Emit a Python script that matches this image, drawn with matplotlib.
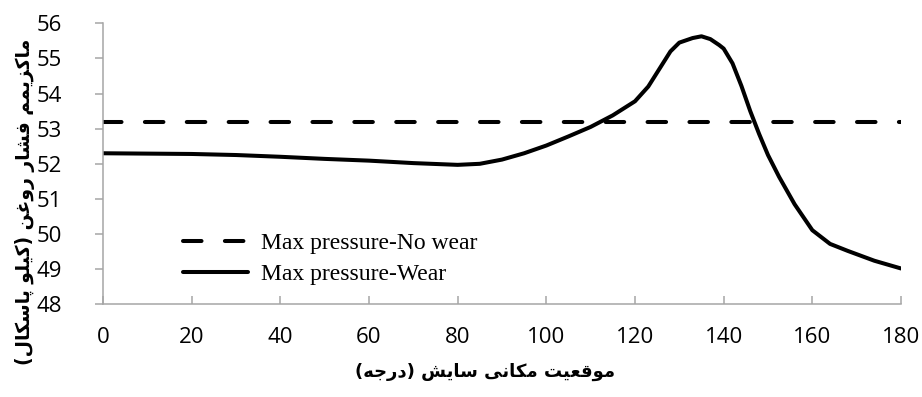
import matplotlib
matplotlib.use("Agg")
import matplotlib.pyplot as plt

# --- data ---
angle = [0, 10, 20, 30, 40, 50, 60, 70, 80, 85, 90, 95, 100, 105, 110, 115,
         120, 123, 126, 128, 130, 133, 135, 137, 139, 140, 142, 144, 146,
         148, 150, 152.5, 156, 160, 164, 168, 174, 180]
p_wear = [52.30, 52.29, 52.28, 52.25, 52.20, 52.14, 52.09, 52.02, 51.97,
          52.00, 52.12, 52.30, 52.52, 52.78, 53.05, 53.38, 53.78, 54.20,
          54.80, 55.20, 55.45, 55.58, 55.63, 55.55, 55.38, 55.28, 54.86,
          54.22, 53.50, 52.85, 52.25, 51.63, 50.85, 50.11, 49.72, 49.52,
          49.24, 49.02]
nowear_x = [0, 180]
nowear_y = [53.2, 53.2]

labels = ["Max pressure-No wear", "Max pressure-Wear"]
xticks = list(range(0, 181, 20))
yticks = list(range(48, 57))
xlabel = "موقعیت مکانی سایش (درجه)"
ylabel = "ماکزیمم فشار روغن (کیلو پاسکال)"

# --- minimal persian shaping (matplotlib has no bidi / joining) ---
FORMS = {  # isolated, final, initial, medial
    "ا": ("\uFE8D", "\uFE8E", None, None),
    "د": ("\uFEA9", "\uFEAA", None, None),
    "ر": ("\uFEAD", "\uFEAE", None, None),
    "ز": ("\uFEAF", "\uFEB0", None, None),
    "و": ("\uFEED", "\uFEEE", None, None),
    "پ": ("\uFB56", "\uFB57", "\uFB58", "\uFB59"),
    "ت": ("\uFE95", "\uFE96", "\uFE97", "\uFE98"),
    "ج": ("\uFE9D", "\uFE9E", "\uFE9F", "\uFEA0"),
    "س": ("\uFEB1", "\uFEB2", "\uFEB3", "\uFEB4"),
    "ش": ("\uFEB5", "\uFEB6", "\uFEB7", "\uFEB8"),
    "ع": ("\uFEC9", "\uFECA", "\uFECB", "\uFECC"),
    "غ": ("\uFECD", "\uFECE", "\uFECF", "\uFED0"),
    "ف": ("\uFED1", "\uFED2", "\uFED3", "\uFED4"),
    "ق": ("\uFED5", "\uFED6", "\uFED7", "\uFED8"),
    "ک": ("\uFB8E", "\uFB8F", "\uFB90", "\uFB91"),
    "ل": ("\uFEDD", "\uFEDE", "\uFEDF", "\uFEE0"),
    "م": ("\uFEE1", "\uFEE2", "\uFEE3", "\uFEE4"),
    "ن": ("\uFEE5", "\uFEE6", "\uFEE7", "\uFEE8"),
    "ه": ("\uFEE9", "\uFEEA", "\uFEEB", "\uFEEC"),
    "ی": ("\uFBFC", "\uFBFD", "\uFBFE", "\uFBFF"),
}


def shape(text):
    out = []
    for i, ch in enumerate(text):
        if ch not in FORMS:
            out.append(ch)
            continue
        prev = text[i - 1] if i > 0 else ""
        nxt = text[i + 1] if i + 1 < len(text) else ""
        f = FORMS[ch]
        jp = prev in FORMS and FORMS[prev][2] is not None
        jn = f[2] is not None and nxt in FORMS
        if jp and jn:
            out.append(f[3])
        elif jp:
            out.append(f[1])
        elif jn:
            out.append(f[2])
        else:
            out.append(f[0])
    vis = "".join(reversed(out))
    return vis.translate(str.maketrans("()", ")("))


fig = plt.figure(figsize=(9.22, 3.97), dpi=100)
ax = fig.add_axes([0.1117, 0.2335, 0.8655, 0.7078])

ax.plot(nowear_x, nowear_y, color="black", lw=2.9,
        linestyle=(0, (4.6, 5.8)), dash_capstyle="round", label=labels[0])
ax.plot(angle, p_wear, color="black", lw=2.9, solid_capstyle="round",
        solid_joinstyle="round", label=labels[1])

ax.set_xlim(0, 180)
ax.set_ylim(48, 56)
ax.set_xticks(xticks)
ax.set_yticks(yticks)

grey = "#a6a6a6"
for s in ["top", "right"]:
    ax.spines[s].set_visible(False)
for s in ["left", "bottom"]:
    ax.spines[s].set_color(grey)
    ax.spines[s].set_linewidth(1.1)
ax.tick_params(axis="y", direction="out", length=5.5, width=1.1, color=grey,
               pad=24, labelsize=16)
ax.tick_params(axis="x", direction="in", length=6, width=1.1, color=grey,
               pad=16, labelsize=16)
for t in ax.get_xticklabels() + ax.get_yticklabels():
    t.set_family(["Open Sans", "DejaVu Sans"])

ax.legend(loc="center left", bbox_to_anchor=(0.1, 0.162), frameon=False,
          prop={"family": "Liberation Serif", "size": 17},
          handlelength=2.75, handletextpad=0.55, labelspacing=0.42,
          borderpad=0, borderaxespad=0)

fig.text(0.526, 0.063, shape(xlabel), ha="center", va="center",
         fontsize=13, fontweight="bold", family=["DejaVu Sans"])
fig.text(0.027, 0.491, shape(ylabel), ha="center", va="center",
         rotation=90, fontsize=13.5, fontweight="bold", family=["DejaVu Sans"])

fig.savefig("out.png", dpi=100)
